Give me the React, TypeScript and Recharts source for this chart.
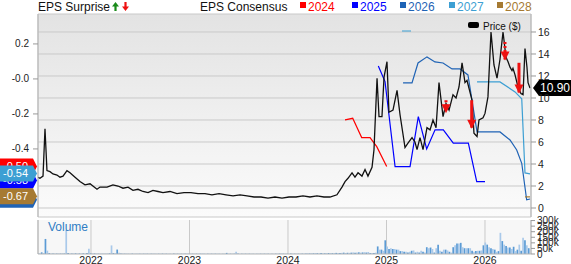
import React from "react";
import {
  ComposedChart,
  Line,
  Bar,
  Cell,
  XAxis,
  YAxis,
  CartesianGrid,
  ReferenceDot,
} from "recharts";

const T0 = 2021.462;
const T1 = 2026.467;
const YEARS = [2022, 2023, 2024, 2025, 2026];
const PRICE_TICKS = [0, 2, 4, 6, 8, 10, 12, 14, 16];
const EPS_TICKS = [0.2, 0, -0.2, -0.4];
const VOL_TICKS = [0, 50, 100, 150, 200, 250, 300];

// [decimal year, price $]
const price: [number, number][] = [
  [2021.462, 2.8], [2021.482, 2.7], [2021.513, 2.9], [2021.533, 7.2], [2021.553, 3.4],
  [2021.584, 3.3], [2021.614, 3.1], [2021.655, 3.0], [2021.685, 2.8], [2021.716, 2.9],
  [2021.756, 3.4], [2021.787, 3.2], [2021.838, 2.8], [2021.888, 2.4], [2021.939, 2.1],
  [2021.99, 2.2], [2022.061, 1.7], [2022.091, 1.9], [2022.163, 1.9], [2022.223, 2.1],
  [2022.274, 2.0], [2022.325, 1.8], [2022.376, 1.9], [2022.426, 1.6], [2022.477, 1.7],
  [2022.528, 1.5], [2022.579, 1.4], [2022.629, 1.6], [2022.68, 1.5], [2022.731, 1.4],
  [2022.802, 1.5], [2022.873, 1.3], [2022.944, 1.4], [2023.015, 1.4], [2023.086, 1.3],
  [2023.157, 1.3], [2023.228, 1.2], [2023.3, 1.3], [2023.371, 1.2], [2023.442, 1.1],
  [2023.513, 1.2], [2023.584, 1.1], [2023.655, 1.0], [2023.726, 1.0], [2023.797, 0.9],
  [2023.868, 1.0], [2023.939, 0.9], [2024.01, 1.0], [2024.081, 1.0], [2024.152, 1.1],
  [2024.223, 1.0], [2024.294, 1.1], [2024.365, 1.0], [2024.426, 1.0], [2024.497, 1.2],
  [2024.548, 1.9], [2024.579, 2.4], [2024.609, 2.7], [2024.65, 3.2], [2024.68, 2.8],
  [2024.711, 3.2], [2024.751, 2.9], [2024.782, 3.5], [2024.812, 2.9], [2024.853, 3.7],
  [2024.873, 5.3], [2024.904, 11.8], [2024.924, 8.3], [2024.954, 8.3], [2024.975, 11.9],
  [2025.005, 13.3], [2025.025, 8.7], [2025.066, 8.9], [2025.107, 10.7], [2025.137, 8.5],
  [2025.188, 5.5], [2025.218, 5.9], [2025.259, 6.4], [2025.289, 6.0], [2025.31, 5.3],
  [2025.34, 6.4], [2025.371, 5.3], [2025.411, 7.3], [2025.442, 7.1], [2025.472, 8.0],
  [2025.503, 7.3], [2025.533, 11.4], [2025.574, 8.3], [2025.604, 9.5], [2025.635, 8.9],
  [2025.675, 10.3], [2025.706, 10.0], [2025.736, 11.0], [2025.767, 13.2], [2025.797, 11.4],
  [2025.817, 11.6], [2025.868, 9.8], [2025.888, 6.8], [2025.919, 6.5], [2025.939, 8.0],
  [2025.98, 8.2], [2026.0, 8.6], [2026.03, 10.1], [2026.061, 16.0], [2026.091, 13.0],
  [2026.122, 11.8], [2026.152, 13.5], [2026.183, 16.0], [2026.213, 13.7], [2026.234, 13.3],
  [2026.254, 12.8], [2026.274, 12.5], [2026.284, 12.7], [2026.305, 12.1], [2026.335, 11.0],
  [2026.365, 10.4], [2026.386, 10.3], [2026.396, 12.4], [2026.406, 14.5], [2026.426, 12.8],
  [2026.437, 11.4], [2026.457, 10.9],
];

// EPS consensus by fiscal year: [decimal year, EPS]
const cons2024: [number, number | null][] = [
  [2024.579, -0.234], [2024.657, -0.225], [2024.748, -0.335], [2024.833, -0.335],
  [2024.901, -0.387], [2025.002, -0.501],
];
const cons2025: [number, number | null][] = [
  [2024.917, 0.074], [2024.985, -0.015], [2025.087, -0.501], [2025.239, -0.501],
  [2025.323, -0.215], [2025.408, -0.4], [2025.493, -0.291], [2025.577, -0.291],
  [2025.678, -0.367], [2025.831, -0.367], [2025.916, -0.587], [2026.0, -0.587],
];
const cons2026: [number, number | null][] = [
  [2025.168, -0.023], [2025.259, -0.023], [2025.32, 0.091], [2025.411, 0.126],
  [2025.492, 0.097], [2025.574, 0.091], [2025.665, 0.057], [2025.746, 0.057],
  [2025.827, 0.023], [2025.919, -0.303], [2026.152, -0.303], [2026.254, -0.349],
  [2026.322, -0.406], [2026.373, -0.482], [2026.423, -0.691], [2026.457, -0.686],
];
const cons2027: [number, number | null][] = [
  [2025.157, 0.274], [2025.249, 0.274], [2025.5, null],
  [2025.919, -0.017], [2026.152, -0.017], [2026.305, -0.074], [2026.373, -0.114],
  [2026.406, -0.537], [2026.457, -0.543],
];
const cons2028: [number, number | null][] = [
  [2026.406, -0.674], [2026.457, -0.674],
];

const consYears = ["2024", "2025", "2026", "2027", "2028"];
const consColors = ["#ff0000", "#0000ff", "#1f63b5", "#3d9fd3", "#a67a32"];
const consSeries = [cons2024, cons2025, cons2026, cons2027, cons2028];
// latest consensus tags, drawn in this order
const consTags: [string, number][] = [
  ["2024", -0.5], ["2025", -0.58], ["2026", -0.69], ["2027", -0.54], ["2028", -0.67],
];

// EPS surprise markers: [decimal year, from price, to price]
const surprises: [number, number, number][] = [
  [2025.604, 9.8, 8.7],
  [2025.865, 9.8, 7.3],
  [2026.203, 15.1, 13.5],
  [2026.345, 13.2, 10.5],
];
const dashedSurprise = [true, false, true, false];

// weekly volume (thousands), first week at VOL_START
const VOL_START = 2021.462;
const WEEK = 7 / 365.25;
const volume = [
  4, 6, 15, 8, 135, 30, 8, 5, 4, 5, 4, 5, 4, 6, 5, 215, 8, 5, 4, 5,
  6, 4, 5, 4, 6, 5, 8, 48, 6, 4, 5, 4, 3, 4, 3, 4, 3, 5, 6, 77,
  8, 6, 40, 12, 5, 4, 3, 4, 3, 3, 4, 3, 3, 4, 3, 3, 3, 4, 3, 3,
  3, 4, 3, 3, 3, 3, 4, 3, 3, 3, 3, 3, 4, 3, 3, 3, 3, 3, 3, 4,
  3, 3, 3, 3, 3, 3, 3, 4, 3, 3, 3, 3, 3, 3, 3, 3, 3, 3, 3, 3,
  10, 3, 3, 3, 3, 20, 4, 3, 3, 3, 3, 3, 3, 3, 3, 3, 3, 3, 3, 3,
  3, 3, 3, 3, 3, 3, 3, 3, 4, 4, 3, 3, 3, 3, 4, 3, 3, 3, 3, 4,
  4, 4, 5, 6, 5, 7, 6, 8, 7, 6, 8, 7, 6, 7, 9, 8, 7, 8, 10, 9,
  8, 10, 12, 9, 11, 10, 12, 14, 11, 13, 15, 12, 14, 16, 13, 18, 8, 10, 9,
  12, 68, 39, 39, 29, 123, 68, 45, 52, 45,
  45, 39, 39, 26, 26, 20, 20, 13, 20, 29,
  32, 13, 20, 13, 29, 20, 13, 61, 52, 58,
  45, 13, 52, 84, 29, 20, 39, 39, 32, 20,
  13, 61, 78, 94, 94, 100, 61, 52, 52, 52,
  52, 29, 20, 26, 29, 29, 32, 78, 103, 84,
  61, 52, 45, 39, 20, 26, 190, 116, 84, 71,
  58, 58, 45, 65, 26, 39, 84, 29, 145, 123,
  78, 52,
];

const priceData = price.map(([t, p]) => ({ t, p }));
const volumeData = volume.map((v, i) => ({ t: VOL_START + i * WEEK, v }));

const FONT = "'Liberation Sans', Arial, sans-serif";
const GRID = "#c9c9c9";
const AXIS = "#b5b5b5";

const tagShape = (color: string, label: string) => (props: any) => {
  const { cx, cy } = props;
  return (
    <g>
      <polygon
        points={`${cx - 38},${cy - 8} ${cx - 5},${cy - 8} ${cx - 1},${cy} ${cx - 5},${cy + 8} ${cx - 38},${cy + 8}`}
        fill={color}
      />
      <text x={cx - 35} y={cy + 4} fill="#fff" fontSize={11} fontFamily={FONT}>
        {label}
      </text>
    </g>
  );
};

const lastPriceTag = (props: any) => {
  const { cx, cy } = props;
  return (
    <g>
      <polygon
        points={`${cx + 2},${cy} ${cx + 8},${cy - 8} ${cx + 40},${cy - 8} ${cx + 40},${cy + 8} ${cx + 8},${cy + 8}`}
        fill="#000"
      />
      <text x={cx + 9} y={cy + 4} fill="#fff" fontSize={12} fontFamily={FONT}>
        10.90
      </text>
    </g>
  );
};

const arrowHead = (props: any) => {
  const { cx, cy, index } = props;
  if (index !== 1) return <g key={`n${index}`} />;
  return (
    <polygon
      key={`h${index}`}
      points={`${cx - 4.5},${cy - 8} ${cx + 4.5},${cy - 8} ${cx},${cy + 1}`}
      fill="#ee1111"
    />
  );
};

const epsFmt = (v: number) => (v === 0 ? "-0.0" : v.toFixed(1));
const volFmt = (v: number) => (v === 0 ? "0" : `${v}k`);

function Header() {
  const legendX = [300, 352, 400, 449, 497];
  return (
    <svg
      width={571}
      height={264}
      style={{ position: "absolute", left: 0, top: 0, pointerEvents: "none" }}
      fontFamily={FONT}
    >
      <text x={38} y={11} fontSize={12} fill="#111">EPS Surprise</text>
      <polygon points="112,6.5 115.5,2 119,6.5 116.6,6.5 116.6,11 114.4,11 114.4,6.5" fill="#1a8a1a" />
      <polygon points="122,6.5 125.5,11 129,6.5 126.6,6.5 126.6,2 124.4,2 124.4,6.5" fill="#ee1111" />
      <text x={200} y={11} fontSize={12} fill="#111">EPS Consensus</text>
      {consYears.map((y, i) => (
        <g key={y}>
          <rect x={legendX[i]} y={2} width={6} height={6} fill={consColors[i]} />
          <text x={legendX[i] + 8} y={11} fontSize={12} fill={consColors[i]}>{y}</text>
        </g>
      ))}
      <rect x={468} y={22} width={11} height={6} rx={2} fill="#000" />
      <text x={483} y={29.5} fontSize={10} fill="#111">Price ($)</text>
      <text x={48} y={231} fontSize={12} fill="#2f7dc4">Volume</text>
    </svg>
  );
}

export default function App() {
  return (
    <div
      style={{
        position: "absolute",
        left: 0,
        top: 0,
        width: 571,
        height: 264,
        background: "#fff",
        fontFamily: FONT,
        overflow: "hidden",
      }}
    >
      <div style={{ position: "absolute", left: 0, top: 0 }}>
        <ComposedChart width={571} height={220} margin={{ top: 14, right: 0, bottom: 3, left: 0 }}>
          <defs>
            <linearGradient id="plotBg" x1="0" y1="0" x2="0" y2="1">
              <stop offset="0%" stopColor="#e3e3e3" />
              <stop offset="100%" stopColor="#fbfbfb" />
            </linearGradient>
          </defs>
          <CartesianGrid yAxisId="price" stroke={GRID} fill="url(#plotBg)" fillOpacity={1} />
          <XAxis
            type="number"
            dataKey="t"
            domain={[T0, T1]}
            ticks={YEARS}
            allowDataOverflow
            height={0}
            tick={false}
            tickLine={false}
            axisLine={{ stroke: AXIS }}
          />
          <XAxis
            xAxisId="top"
            orientation="top"
            type="number"
            dataKey="t"
            domain={[T0, T1]}
            allowDataOverflow
            height={0}
            tick={false}
            tickLine={false}
            axisLine={{ stroke: AXIS }}
          />
          <YAxis
            yAxisId="eps"
            orientation="left"
            width={38}
            type="number"
            domain={[-0.789, 0.371]}
            ticks={EPS_TICKS}
            interval={0}
            allowDataOverflow
            tickFormatter={epsFmt}
            tick={{ fontSize: 10, fill: "#222", fontFamily: FONT }}
            tickSize={5}
            tickMargin={4}
            tickLine={{ stroke: "#999" }}
            axisLine={{ stroke: AXIS }}
          />
          <YAxis
            yAxisId="price"
            orientation="right"
            width={40}
            type="number"
            domain={[-0.818, 17.636]}
            ticks={PRICE_TICKS}
            interval={0}
            allowDataOverflow
            tick={{ fontSize: 10.5, fill: "#222", fontFamily: FONT }}
            tickSize={5}
            tickMargin={2}
            tickLine={{ stroke: "#999" }}
            axisLine={{ stroke: AXIS }}
          />
          {consSeries.map((s, i) => (
            <Line
              key={consYears[i]}
              data={s.map(([t, e]) => ({ t, e }))}
              dataKey="e"
              yAxisId="eps"
              type="linear"
              stroke={consColors[i]}
              strokeWidth={1.2}
              dot={false}
              activeDot={false}
              connectNulls={false}
              isAnimationActive={false}
            />
          ))}
          <Line
            data={priceData}
            dataKey="p"
            yAxisId="price"
            type="linear"
            stroke="#111"
            strokeWidth={1.3}
            dot={false}
            activeDot={false}
            isAnimationActive={false}
          />
          {surprises.map(([t, from, to], i) => (
            <Line
              key={`s${i}`}
              data={[{ t, p: from }, { t, p: to }]}
              dataKey="p"
              yAxisId="price"
              type="linear"
              stroke="#ee1111"
              strokeWidth={3}
              strokeDasharray={dashedSurprise[i] ? "2 2" : undefined}
              dot={arrowHead}
              activeDot={false}
              isAnimationActive={false}
            />
          ))}
          {consTags.map(([y, v]) => (
            <ReferenceDot
              key={`tag${y}`}
              x={T0}
              y={v}
              yAxisId="eps"
              ifOverflow="visible"
              shape={tagShape(consColors[consYears.indexOf(y)], v.toFixed(2))}
            />
          ))}
          <ReferenceDot x={T1} y={10.9} yAxisId="price" ifOverflow="visible" shape={lastPriceTag} />
        </ComposedChart>
      </div>
      <div style={{ position: "absolute", left: 0, top: 0 }}>
        <ComposedChart
          width={571}
          height={264}
          data={volumeData}
          margin={{ top: 220, right: 0, bottom: 0, left: 0 }}
        >
          <CartesianGrid yAxisId="v" horizontal={false} stroke={GRID} fill="#f7f7f7" fillOpacity={1} />
          <XAxis
            type="number"
            dataKey="t"
            domain={[T0, T1]}
            ticks={YEARS}
            interval={0}
            allowDataOverflow
            height={10}
            tickSize={0}
            tickMargin={3}
            tickLine={false}
            axisLine={{ stroke: AXIS }}
            tick={{ fontSize: 10.5, fill: "#222", fontFamily: FONT }}
          />
          <XAxis
            xAxisId="top"
            orientation="top"
            type="number"
            dataKey="t"
            domain={[T0, T1]}
            allowDataOverflow
            height={0}
            tick={false}
            tickLine={false}
            axisLine={{ stroke: AXIS }}
          />
          <YAxis
            yAxisId="l"
            orientation="left"
            width={38}
            domain={[0, 305]}
            tick={false}
            tickLine={false}
            axisLine={{ stroke: AXIS }}
          />
          <YAxis
            yAxisId="v"
            orientation="right"
            width={40}
            domain={[0, 305]}
            ticks={VOL_TICKS}
            interval={0}
            allowDataOverflow
            tickFormatter={volFmt}
            tick={{ fontSize: 10, fill: "#222", fontFamily: FONT }}
            tickSize={4}
            tickMargin={2}
            tickLine={{ stroke: "#999" }}
            axisLine={{ stroke: AXIS }}
          />
          <Bar dataKey="v" yAxisId="v" barSize={2} isAnimationActive={false}>
            {volumeData.map((d, i) => (
              <Cell key={i} fill={i % 2 === 0 ? "#5b9bd5" : "#a9c9ea"} />
            ))}
          </Bar>
        </ComposedChart>
      </div>
      <Header />
    </div>
  );
}
